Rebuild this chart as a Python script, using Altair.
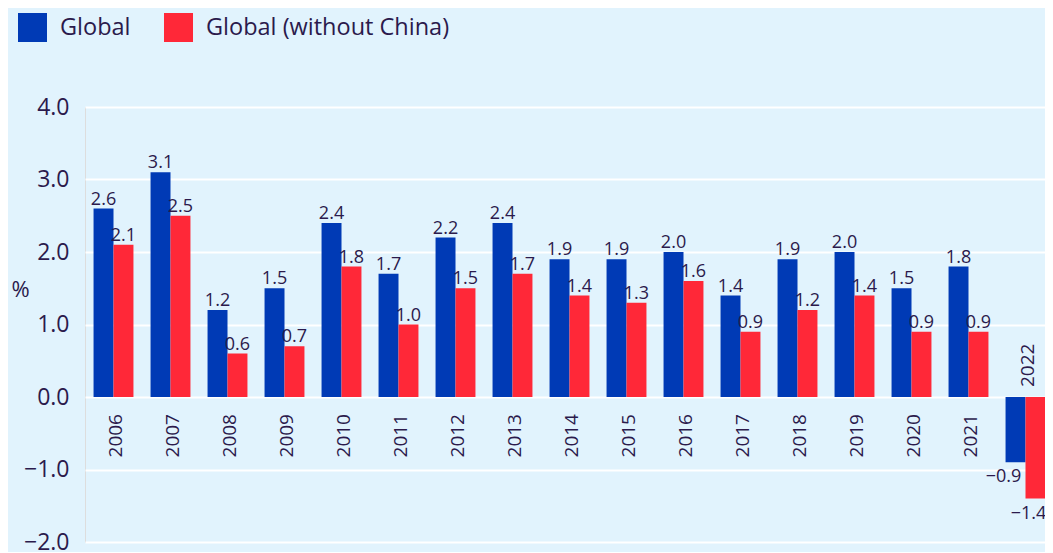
import altair as alt
import pandas as pd

years = [str(y) for y in range(2006, 2023)]
series_names = ["Global", "Global (without China)"]
global_vals = [2.6, 3.1, 1.2, 1.5, 2.4, 1.7, 2.2, 2.4, 1.9, 1.9, 2.0, 1.4, 1.9, 2.0, 1.5, 1.8, -0.9]
global_ex_china = [2.1, 2.5, 0.6, 0.7, 1.8, 1.0, 1.5, 1.7, 1.4, 1.3, 1.6, 0.9, 1.2, 1.4, 0.9, 0.9, -1.4]
y_ticks = [-2, -1, 0, 1, 2, 3, 4]

BLUE = "#003ab5"
RED = "#ff2838"
TEXT = "#2b1a4c"
BG = "#e1f3fd"

rows = []
for i, yr in enumerate(years):
    rows.append({"year": yr, "series": series_names[0], "value": global_vals[i]})
    rows.append({"year": yr, "series": series_names[1], "value": global_ex_china[i]})
df = pd.DataFrame(rows)

x = alt.X("year:N", sort=years,
          scale=alt.Scale(paddingInner=0.3, paddingOuter=0.15, range=[0, 969]),
          axis=None)
xoff = alt.XOffset("series:N", sort=series_names, scale=alt.Scale(domain=series_names))
y = alt.Y(
    "value:Q",
    scale=alt.Scale(domain=[-2, 4], nice=False, zero=True),
    axis=alt.Axis(
        values=y_ticks, format=".1f", title="%", domain=False, ticks=False,
        labelPadding=16, labelFontSize=23, labelColor=TEXT,
        grid=True, gridColor="white", gridWidth=2,
        titleAngle=0, titleFontSize=22, titleFontWeight="normal", titleColor=TEXT,
        titleX=-65, titleY=182, titleAlign="center", titleBaseline="middle",
    ),
)
color = alt.Color(
    "series:N", sort=series_names,
    scale=alt.Scale(domain=series_names, range=[BLUE, RED]),
    legend=alt.Legend(
        title=None, orient="none", legendX=-67, legendY=-94, direction="horizontal",
        symbolType="square", symbolSize=841, symbolStrokeWidth=0, symbolOpacity=1,
        labelFontSize=23.5, labelColor=TEXT, labelOffset=13, labelLimit=0,
        columnPadding=33, padding=0,
    ),
)

base = alt.Chart(df)
bars = base.mark_bar().encode(x=x, xOffset=xoff, y=y, color=color)

pos_labels = base.transform_filter("datum.value >= 0").mark_text(
    baseline="alphabetic", dy=-4, fontSize=18, color=TEXT
).encode(x=x, xOffset=xoff, y=alt.Y("value:Q"), text=alt.Text("value:Q", format=".1f"))

neg = base.transform_filter("datum.value < 0")
neg_labels_a = neg.transform_filter(alt.datum.series == series_names[0]).mark_text(
    baseline="top", dy=6, dx=-12, fontSize=18, color=TEXT
).encode(x=x, xOffset=xoff, y=alt.Y("value:Q"), text=alt.Text("value:Q", format=".1f"))
neg_labels_b = neg.transform_filter(alt.datum.series == series_names[1]).mark_text(
    baseline="top", dy=6, dx=-7, fontSize=18, color=TEXT
).encode(x=x, xOffset=xoff, y=alt.Y("value:Q"), text=alt.Text("value:Q", format=".1f"))

glob = base.transform_filter(alt.datum.series == series_names[0])
year_pos = glob.transform_filter("datum.value >= 0").mark_text(
    angle=270, align="right", baseline="middle", dx=-17, dy=2, fontSize=19, color=TEXT
).encode(x=x, y=alt.datum(0), text="year:N")
year_neg = glob.transform_filter("datum.value < 0").mark_text(
    angle=270, align="left", baseline="middle", dx=10, dy=2, fontSize=19, color=TEXT
).encode(x=x, y=alt.datum(0), text="year:N")

chart = alt.layer(bars, pos_labels, neg_labels_a, neg_labels_b, year_pos, year_neg).properties(
    width=960, height=435,
    autosize=alt.AutoSizeParams(type="none"),
    padding={"left": 77, "top": 99, "right": 0, "bottom": 10},
    background=BG,
).configure_view(stroke=None).configure(font="Open Sans")

chart.save("out.html", embed_options={"renderer": "svg", "actions": False})
